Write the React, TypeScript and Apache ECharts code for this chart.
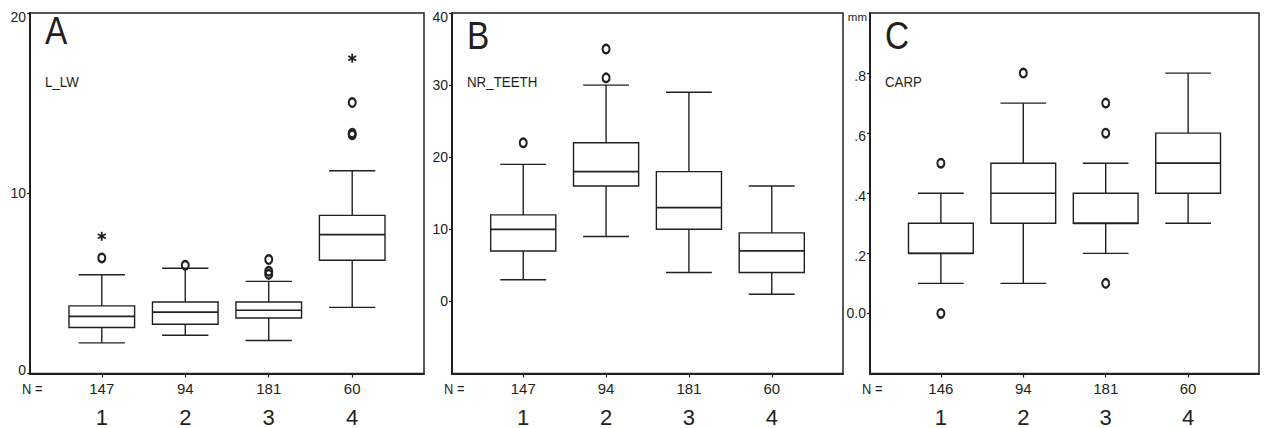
import React, { useEffect, useRef } from 'react';
import * as echarts from 'echarts';

// ---------- data ----------
const groupValues = [1, 2, 3, 4];
const nA = [147, 94, 181, 60];
const nB = [147, 94, 181, 60];
const nC = [146, 94, 181, 60];

// [group, low whisker, Q1, median, Q3, high whisker]
const boxA = [
  [1, 1.7, 2.55, 3.17, 3.75, 5.48],
  [2, 2.12, 2.73, 3.4, 3.97, 5.84],
  [3, 1.83, 3.08, 3.51, 3.97, 5.11],
  [4, 3.67, 6.28, 7.7, 8.77, 11.25],
];
const outlierA = [[1, 6.41], [2, 6.0], [3, 6.32], [3, 5.67], [3, 5.5], [4, 15.03], [4, 13.33], [4, 13.24]];
const extremeA = [[1, 7.61], [4, 17.49]];

const boxB = [
  [1, 3, 7, 10, 12, 19],
  [2, 9, 16, 18, 22, 30],
  [3, 4, 10, 13, 18, 29],
  [4, 1, 4, 7, 9.5, 16],
];
const outlierB = [[1, 22], [2, 31], [2, 35]];
const extremeB: number[][] = [];

const boxC = [
  [1, 0.1, 0.2, 0.2, 0.3, 0.4],
  [2, 0.1, 0.3, 0.4, 0.5, 0.7],
  [3, 0.2, 0.3, 0.3, 0.4, 0.5],
  [4, 0.3, 0.4, 0.5, 0.6, 0.8],
];
const outlierC = [[1, 0.5], [1, 0.0], [2, 0.8], [3, 0.7], [3, 0.6], [3, 0.1]];
const extremeC: number[][] = [];

const ticksA = [0, 10, 20];
const ticksB = [0, 10, 20, 30, 40];
const ticksC = [0, 0.2, 0.4, 0.6, 0.8];

// ---------- style ----------
const INK = '#231f20';
const NARROW = "'Liberation Sans Narrow', 'Arial Narrow', 'Liberation Sans', Arial, sans-serif";
const REG = "'Liberation Sans', Arial, sans-serif";
const LW = 1.4;
const SQUEEZE = 0.86;

const panels = [
  { letter: 'A', varName: 'L_LW', left: 30, width: 394, min: 0, max: 20, ticks: ticksA, n: nA, box: boxA, out: outlierA, ext: extremeA,
    fmt: (v: number) => String(v), letterY: 31.5 },
  { letter: 'B', varName: 'NR_TEETH', left: 452, width: 391, min: -10, max: 40, ticks: ticksB, n: nB, box: boxB, out: outlierB, ext: extremeB,
    fmt: (v: number) => String(v), letterY: 36.5 },
  { letter: 'C', varName: 'CARP', left: 870, width: 389, min: -0.2, max: 1.0, ticks: ticksC, n: nC, box: boxC, out: outlierC, ext: extremeC,
    fmt: (v: number) => (v === 0 ? '0.0' : String(Math.round(v * 10) / 10).replace(/^0/, '')), letterY: 36.5 },
];

const TOP = 13;
const HEIGHT = 361;
const XMIN = 0.14;
const XMAX = 4.86;

function buildOption() {
  const grid: any[] = [];
  const xAxis: any[] = [];
  const yAxis: any[] = [];
  const series: any[] = [];
  const graphic: any[] = [];

  panels.forEach((p, i) => {
    grid.push({
      left: p.left, top: TOP, width: p.width, height: HEIGHT,
      show: true, borderColor: INK, borderWidth: 1.5, backgroundColor: 'transparent',
    });
    xAxis.push({
      gridIndex: i, type: 'value', min: XMIN, max: XMAX,
      splitLine: { show: false },
      axisLine: { show: true, onZero: false, lineStyle: { color: INK, width: 2 } },
      axisTick: { show: true, customValues: groupValues, length: 4, lineStyle: { color: INK, width: 1.2 } },
      axisLabel: {
        show: true, customValues: groupValues, margin: 7,
        formatter: (v: number) => `{n|${p.n[Math.round(v) - 1]}}\n{g|${Math.round(v)}}`,
        rich: {
          n: { fontFamily: NARROW, fontSize: 15, lineHeight: 16, color: INK },
          g: { fontFamily: NARROW, fontSize: 22, lineHeight: 41, color: INK },
        },
      },
    });
    const maxTick = p.ticks[p.ticks.length - 1];
    yAxis.push({
      gridIndex: i, type: 'value', min: p.min, max: p.max,
      splitLine: { show: false },
      axisLine: { show: true, onZero: false, lineStyle: { color: INK, width: 2 } },
      axisTick: { show: true, customValues: p.ticks, length: 3, lineStyle: { color: INK, width: 1.2 } },
      axisLabel: {
        show: true, customValues: p.ticks, margin: 4,
        formatter: (v: number) => {
          const t = p.fmt(v);
          if (i === 0 && v === 0) return `{u|${t}}`;
          if (Math.abs(v - maxTick) < 1e-9 && i < 2) return `{d|${t}}`;
          if (i === 2 && v !== 0) return `{s|${t}}`;
          return `{m|${t}}`;
        },
        rich: {
          m: { fontFamily: REG, fontSize: 14, color: INK },
          d: { fontFamily: REG, fontSize: 14, color: INK, padding: [7, 0, 0, 0] },
          s: { fontFamily: REG, fontSize: 14, color: INK, padding: [5, 0, 0, 0] },
          u: { fontFamily: REG, fontSize: 14, color: INK, padding: [0, 0, 8, 0] },
        },
      },
    });

    series.push({
      type: 'custom', xAxisIndex: i, yAxisIndex: i, z: 3,
      encode: { x: 0, y: [1, 2, 3, 4, 5] },
      data: p.box,
      renderItem: (_params: any, api: any) => {
        const x = api.value(0);
        const lo = api.coord([x, api.value(1)]);
        const q1 = api.coord([x, api.value(2)]);
        const md = api.coord([x, api.value(3)]);
        const q3 = api.coord([x, api.value(4)]);
        const hi = api.coord([x, api.value(5)]);
        const bw = api.size([1, 0])[0];
        const hb = bw * 0.393;
        const hc = bw * 0.277;
        const cx = lo[0];
        const st = { stroke: INK, lineWidth: LW, fill: null };
        return {
          type: 'group',
          children: [
            { type: 'line', shape: { x1: cx, y1: hi[1], x2: cx, y2: q3[1] }, style: st },
            { type: 'line', shape: { x1: cx, y1: q1[1], x2: cx, y2: lo[1] }, style: st },
            { type: 'line', shape: { x1: cx - hc, y1: hi[1], x2: cx + hc, y2: hi[1] }, style: st },
            { type: 'line', shape: { x1: cx - hc, y1: lo[1], x2: cx + hc, y2: lo[1] }, style: st },
            { type: 'rect', shape: { x: cx - hb, y: q3[1], width: 2 * hb, height: q1[1] - q3[1] }, style: { stroke: INK, lineWidth: LW, fill: 'none' } },
            { type: 'line', shape: { x1: cx - hb, y1: md[1], x2: cx + hb, y2: md[1] }, style: { stroke: INK, lineWidth: LW + 0.3 } },
          ],
        };
      },
    });

    series.push({
      type: 'scatter', xAxisIndex: i, yAxisIndex: i, z: 4,
      data: p.out,
      symbol: 'circle', symbolSize: [7, 8.5],
      itemStyle: { color: 'rgba(0,0,0,0)', borderColor: INK, borderWidth: 2.2, opacity: 1 },
    });

    if (p.ext.length) {
      series.push({
        type: 'custom', xAxisIndex: i, yAxisIndex: i, z: 4,
        encode: { x: 0, y: 1 },
        data: p.ext,
        renderItem: (_params: any, api: any) => {
          const c = api.coord([api.value(0), api.value(1)]);
          const r = 4.5;
          const dx = r * Math.cos(Math.PI / 6);
          const dy = r * Math.sin(Math.PI / 6);
          const st = { stroke: INK, lineWidth: 1.8 };
          return {
            type: 'group',
            children: [
              { type: 'line', shape: { x1: c[0], y1: c[1] - r, x2: c[0], y2: c[1] + r }, style: st },
              { type: 'line', shape: { x1: c[0] - dx, y1: c[1] - dy, x2: c[0] + dx, y2: c[1] + dy }, style: st },
              { type: 'line', shape: { x1: c[0] - dx, y1: c[1] + dy, x2: c[0] + dx, y2: c[1] - dy }, style: st },
            ],
          };
        },
      });
    }

    graphic.push({
      type: 'text', x: p.left + 15, y: p.letterY, scaleX: 0.88,
      style: { text: p.letter, fontFamily: NARROW, fontSize: 38, fill: INK, verticalAlign: 'middle', align: 'left' },
    });
    graphic.push({
      type: 'text', x: p.left + 15, y: 81.5, scaleX: SQUEEZE,
      style: { text: p.varName, fontFamily: NARROW, fontSize: 15.5, fill: INK, verticalAlign: 'middle', align: 'left' },
    });
    graphic.push({
      type: 'text', x: p.left - 8, y: 388.8, scaleX: SQUEEZE,
      style: { text: 'N =', fontFamily: NARROW, fontSize: 15, fill: INK, verticalAlign: 'middle', align: 'left' },
    });
  });

  graphic.push({
    type: 'text', x: 867, y: 17,
    style: { text: 'mm', fontFamily: REG, fontSize: 11.5, fill: INK, verticalAlign: 'middle', align: 'right' },
  });

  return {
    animation: false,
    backgroundColor: '#ffffff',
    grid, xAxis, yAxis, series, graphic,
  };
}

export default function App() {
  const ref = useRef<HTMLDivElement>(null);
  useEffect(() => {
    if (!ref.current) return;
    const chart = echarts.init(ref.current, undefined, { renderer: 'svg' });
    chart.setOption(buildOption());
    return () => chart.dispose();
  }, []);
  return (
    <div
      ref={ref}
      style={{ position: 'fixed', left: 0, top: 0, width: 1264, height: 428, background: '#fff' }}
    />
  );
}
